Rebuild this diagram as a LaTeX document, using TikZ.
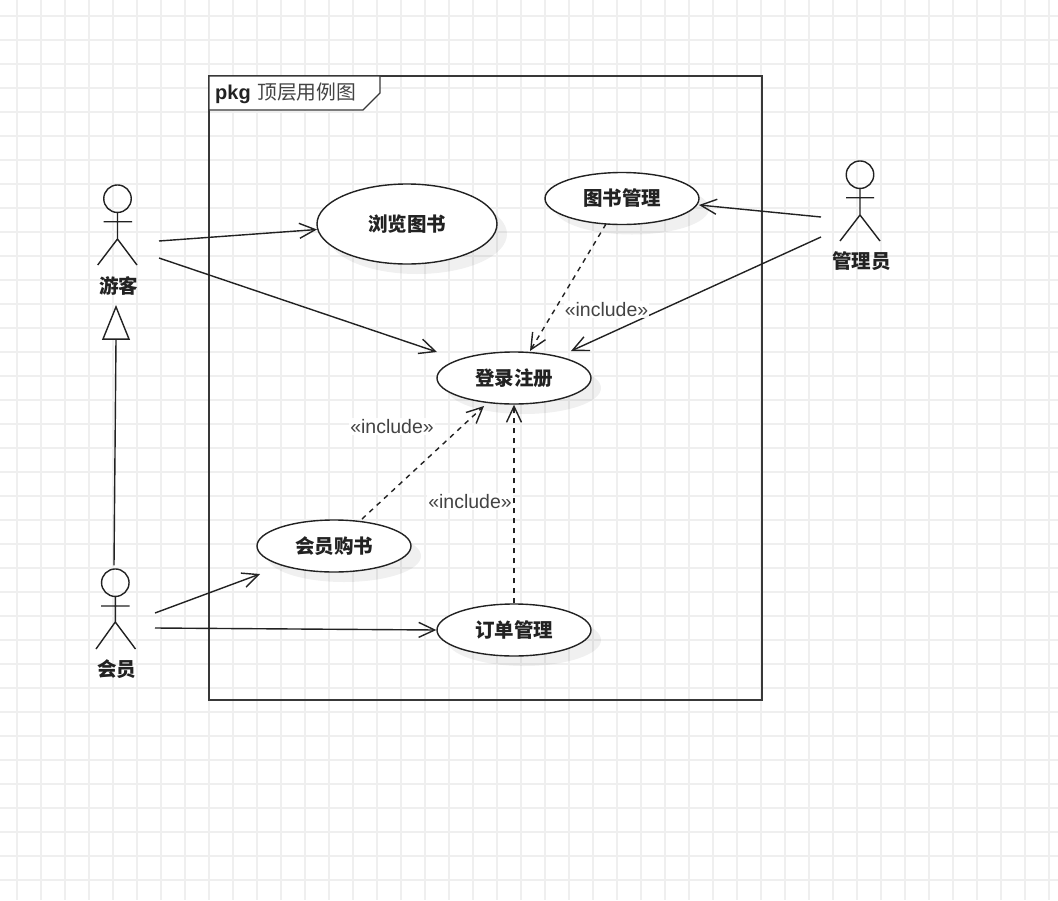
\documentclass[tikz,border=0pt]{standalone}
\usepackage{fontspec}
\setmainfont{Liberation Sans}
\newfontfamily\cjkfont{Noto Sans CJK SC}
\usetikzlibrary{shapes.geometric,arrows.meta,calc}
\definecolor{gridc}{HTML}{EFEFEF}
\definecolor{ink}{HTML}{222222}
\tikzset{
  usecase/.style={ellipse,draw=ink,line width=1.4pt,fill=white,inner sep=0pt,minimum width=154pt,minimum height=52pt,font=\cjkfont\bfseries\fontsize{19.5}{22}\selectfont,text=ink},
  casedrop/.style={fill=black,fill opacity=.06},
  actorlabel/.style={inner sep=0pt,font=\cjkfont\bfseries\fontsize{19.5}{22}\selectfont,text=ink},
  actorline/.style={draw=ink,line width=1.4pt},
  headc/.style={circle,draw=ink,line width=1.4pt,inner sep=0pt,minimum size=27.5pt},
  assoc/.style={draw=ink,line width=1.4pt,-{Straight Barb[length=16pt,width=15pt,line width=1.4pt]}},
  incl/.style={assoc,dash pattern=on 5pt off 5pt},
  tag/.style={fill=white,fill opacity=.92,text opacity=1,inner sep=1pt,text=ink!85,font=\fontsize{19.5}{22}\selectfont},
  framel/.style={draw=ink!90,line width=1.4pt},
}
\begin{document}
\begin{tikzpicture}[x=1pt,y=-1pt]
\useasboundingbox (0,0) rectangle (1058,900);
\fill[white] (0,0) rectangle (1058,900);
% grid
\foreach \k in {0,...,43} \draw[gridc,line width=1.2pt] ({17+24*\k},0) -- ({17+24*\k},900);
\foreach \k in {0,...,36} \draw[gridc,line width=1.2pt] (0,{16+24*\k}) -- (1058,{16+24*\k});
% package frame
\draw[framel] (209,76) rectangle (762,700);
\draw[framel,fill=white] (209,76) -- (380,76) -- (380,93) -- (363,110) -- (209,110) -- cycle;
\node[anchor=base west,inner sep=0pt,font=\bfseries\fontsize{20}{22}\selectfont,text=ink] (pkgword) at (215,99.5) {pkg};
\node[anchor=base west,inner sep=0pt,font=\cjkfont\fontsize{19.8}{22}\selectfont,text=ink!85] (pkgname) at (257,99.5) {顶层用例图};
% shadows
\fill[casedrop] (417,234) ellipse [x radius=90,y radius=40];
\fill[casedrop] (632,208.5) ellipse [x radius=77,y radius=26];
\fill[casedrop] (524,388) ellipse [x radius=77,y radius=26];
\fill[casedrop] (344,556) ellipse [x radius=77,y radius=26];
\fill[casedrop] (524,640) ellipse [x radius=77,y radius=26];
% use cases
\node[usecase,minimum width=180pt,minimum height=80pt] (browse) at (407,224) {浏览图书};
\node[usecase] (manage) at (622,198.5) {图书管理};
\node[usecase] (login) at (514,378) {登录注册};
\node[usecase] (buy) at (334,546) {会员购书};
\node[usecase] (orders) at (514,630) {订单管理};
% actors
\node[actorlabel] (guest) at (118.5,285.5) {游客};
\node[headc] (guesthead) at (117.5,198.7) {};
\draw[actorline] (guesthead.south) -- (117.5,239) (103.5,221.7) -- (132,221.7) (97.7,265) -- (117.5,239) -- (137,265);
\node[actorlabel] (admin) at (861.5,261.5) {管理员};
\node[headc] (adminhead) at (860,174.7) {};
\draw[actorline] (adminhead.south) -- (860,215) (846,197.7) -- (874,197.7) (840,241) -- (860,215) -- (880,241);
\node[actorlabel] (member) at (116.5,669.5) {会员};
\node[headc] (memberhead) at (115.3,582.7) {};
\draw[actorline] (memberhead.south) -- (115.3,622) (101,606) -- (129.5,606) (96,649) -- (115.3,622) -- (135.5,649);
% associations
\draw[assoc] ([shift={(40.5,-44.5)}]guest.center) -- ([shift={(-90,5.5)}]browse.center);
\draw[assoc] ([shift={(40.5,-27.5)}]guest.center) -- ([shift={(-77,-26)}]login.center);
\draw[assoc] ([shift={(-40.5,-44.5)}]admin.center) -- ([shift={(77,6.5)}]manage.center);
\draw[assoc] ([shift={(-40.5,-24.5)}]admin.center) -- ([shift={(57,-27)}]login.center);
\draw[assoc] ([shift={(38.5,-56.5)}]member.center) -- ([shift={(-74,28)}]buy.center);
\draw[assoc] ([shift={(38.5,-41.5)}]member.center) -- (orders.west);
% includes
\draw[incl] ([shift={(-16,25.5)}]manage.center) -- ([shift={(16,-27)}]login.center);
\draw[incl] ([shift={(28,-27)}]buy.center) -- ([shift={(-30,28)}]login.center);
\draw[incl] (orders.north) -- (login.south);
% include labels
\node[tag] (tagA) at (606.5,309.5) {«include»};
\node[tag] (tagB) at (392,426.5) {«include»};
\node[tag] (tagC) at (470,501.5) {«include»};
% generalisation
\node[isosceles triangle,isosceles triangle apex angle=44,shape border rotate=90,draw=ink,line width=1.4pt,fill=white,inner sep=0pt,minimum height=32pt,minimum width=26pt,anchor=apex] (gen) at (116,305) {};
\draw[actorline] ([shift={(-1.3,-3)}]memberhead.north) -- (gen.south);
\end{tikzpicture}
\end{document}
